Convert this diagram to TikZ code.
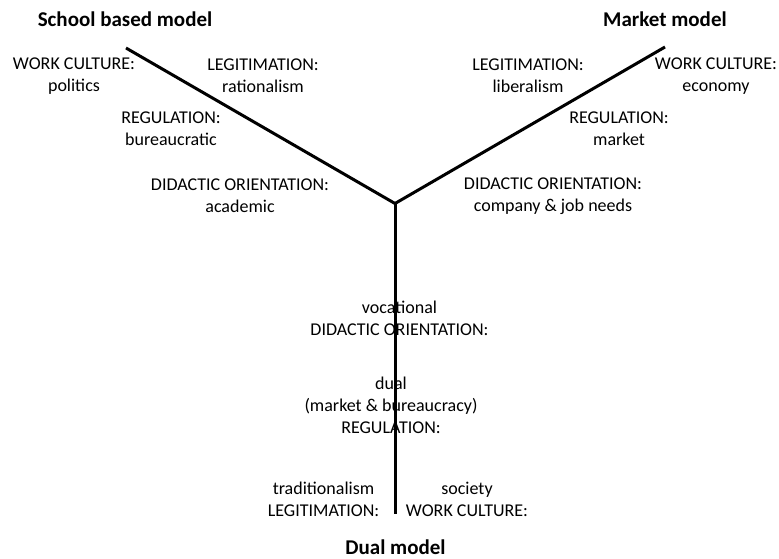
\documentclass[tikz,border=0pt]{standalone}
\usepackage{fontspec}
\setmainfont{Carlito}
\begin{document}
\begin{tikzpicture}[x=1pt,y=-1pt,
  lbl/.style={align=center,inner sep=0pt,font=\fontsize{18}{22}\selectfont},
  ttl/.style={inner sep=0pt,font=\fontsize{21}{25}\selectfont\bfseries},
  arm/.style={line width=3pt,line cap=butt,line join=miter}]
\useasboundingbox (0,0) rectangle (779,559);
% titles
\node[ttl] (tsb) at (125,19) {School based model};
\node[ttl] (tmk) at (665,19) {Market model};
\node[ttl] (tdu) at (395.5,547) {Dual model};
% arms
\coordinate (hub) at (395,203.5);
\coordinate (sb) at (126,48);
\coordinate (mk) at (665,47);
\coordinate (du) at (395,514);
\draw[arm] (sb) -- (hub) -- (mk);
\draw[arm] (hub) -- (du);
% school based labels
\node[lbl] (sbwc) at (74,76) {WORK CULTURE:\\politics};
\node[lbl] (sblg) at (263,76) {LEGITIMATION:\\rationalism};
\node[lbl] (sbrg) at (171,129) {REGULATION:\\bureaucratic};
\node[lbl] (sbdo) at (240,196) {DIDACTIC ORIENTATION:\\academic};
% market labels
\node[lbl] (mklg) at (528,76) {LEGITIMATION:\\liberalism};
\node[lbl] (mkwc) at (716,76) {WORK CULTURE:\\economy};
\node[lbl] (mkrg) at (619,129) {REGULATION:\\market};
\node[lbl] (mkdo) at (553,196) {DIDACTIC ORIENTATION:\\company \& job needs};
% dual labels
\node[lbl] (dudo) at (399.5,318) {vocational\\DIDACTIC ORIENTATION:};
\node[lbl] (durg) at (391,405) {dual\\(market \& bureaucracy)\\REGULATION:};
\node[lbl] (dulg) at (323.5,499) {traditionalism\\LEGITIMATION:};
\node[lbl] (duwc) at (467,499) {society\\WORK CULTURE:};
\end{tikzpicture}
\end{document}
